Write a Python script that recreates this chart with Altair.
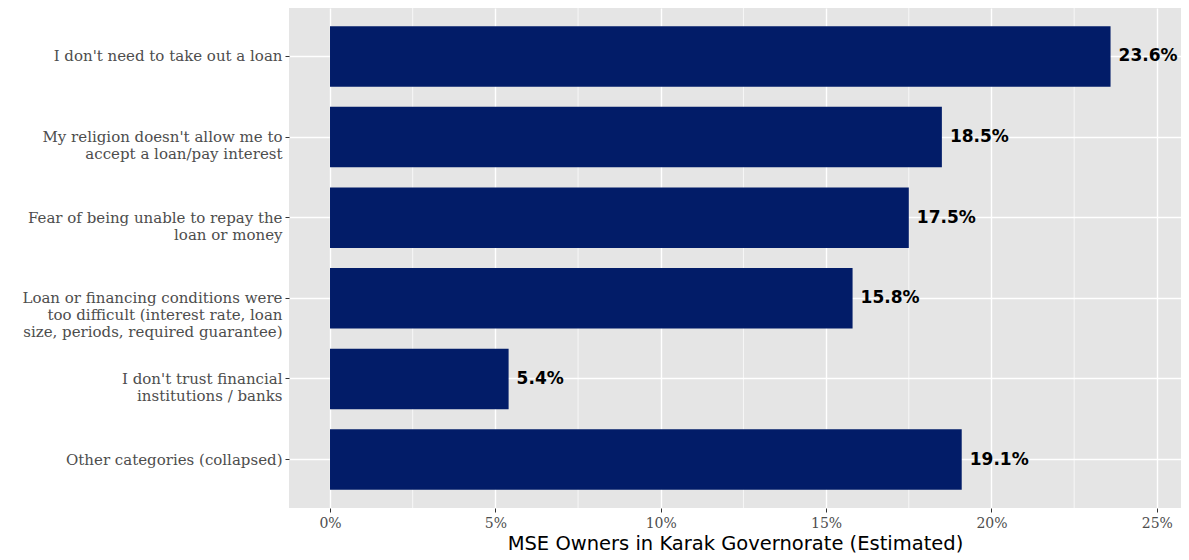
import altair as alt
import pandas as pd

categories = [
    "I don't need to take out a loan",
    "My religion doesn't allow me to\naccept a loan/pay interest",
    "Fear of being unable to repay the\nloan or money",
    "Loan or financing conditions were\ntoo difficult (interest rate, loan\nsize, periods, required guarantee)",
    "I don't trust financial\ninstitutions / banks",
    "Other categories (collapsed)",
]
values = [23.6, 18.5, 17.5, 15.8, 5.4, 19.1]
labels = ["23.6%", "18.5%", "17.5%", "15.8%", "5.4%", "19.1%"]
major_ticks = [0, 5, 10, 15, 20, 25]
minor_ticks = [2.5, 7.5, 12.5, 17.5, 22.5]

df = pd.DataFrame({"cat": categories, "val": values, "lab": labels})
minor_df = pd.DataFrame({"m": minor_ticks})

FONT = "DejaVu Sans"
SLAB = "DejaVu Serif"
xscale = alt.Scale(domain=[-1.24, 25.73], nice=False, zero=False)
yscale = alt.Scale(paddingInner=0.25, paddingOuter=0.225)

minor = alt.Chart(minor_df).mark_rule(color="white", strokeWidth=0.7).encode(
    x=alt.X("m:Q", scale=xscale)
)

bars = alt.Chart(df).mark_bar(color="#021c68").encode(
    x=alt.X(
        "val:Q",
        scale=xscale,
        axis=alt.Axis(
            values=major_ticks,
            labelExpr="datum.value + '%'",
            title="MSE Owners in Karak Governorate (Estimated)",
            grid=True,
            gridColor="white",
            gridWidth=1.4,
            domain=False,
            tickColor="#333333",
            tickSize=4,
            labelColor="#4d4d4d",
            labelFontSize=14,
            labelFont=SLAB,
            labelPadding=4,
            titleFont=FONT,
            titleFontSize=19.5,
            titleFontWeight="normal",
            titleColor="black",
            titlePadding=4,
        ),
    ),
    y=alt.Y(
        "cat:N",
        sort=categories,
        scale=yscale,
        axis=alt.Axis(
            title=None,
            labelExpr="split(datum.label, '\\n')",
            grid=True,
            gridColor="white",
            gridWidth=1.4,
            bandPosition=0.5,
            domain=False,
            tickColor="#333333",
            tickSize=4,
            labelColor="#4d4d4d",
            labelFontSize=15,
            labelFont=SLAB,
            labelLineHeight=17,
            labelPadding=3,
            labelLimit=400,
        ),
    ),
)

text = alt.Chart(df).mark_text(
    align="left", baseline="middle", dx=8, fontSize=17, fontWeight="bold",
    font=FONT, color="black"
).encode(
    x=alt.X("val:Q", scale=xscale),
    y=alt.Y("cat:N", sort=categories, scale=yscale),
    text="lab:N",
)

chart = (
    alt.layer(minor, bars, text)
    .properties(
        width=892,
        height=500,
        autosize=alt.AutoSizeParams(type="none"),
        padding={"left": 281, "top": 0, "right": 0, "bottom": 52},
        background="white",
    )
    .configure_view(fill="#e5e5e5", stroke=None)
)

chart.save("out.html", embed_options={"renderer": "svg", "actions": False})
